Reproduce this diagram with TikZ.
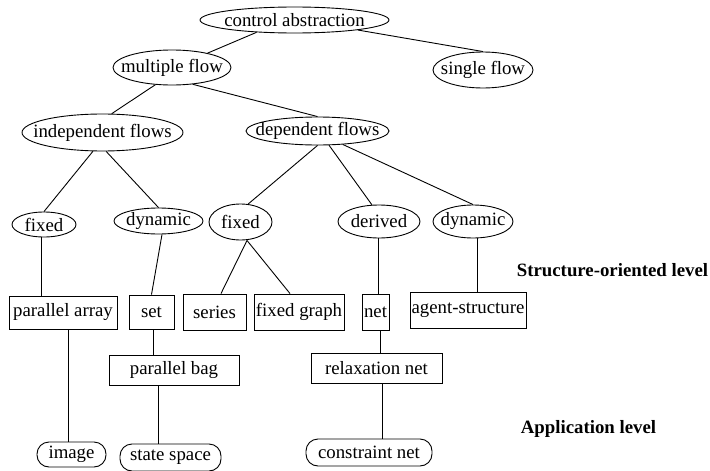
\documentclass[tikz,border=0pt]{standalone}
\usepackage{fontspec}
\setmainfont{Liberation Serif}
\newcommand{\ctxt}[1]{\makebox[0pt]{#1}}
\tikzset{
    ell/.style={draw,ellipse,inner sep=0pt},
    box/.style={draw,rectangle,inner sep=0pt},
    rbox/.style={draw,rectangle,rounded corners=12pt,inner sep=0pt},
    lvl/.style={anchor=base,inner sep=0pt,font=\fontsize{18.8}{22}\selectfont\bfseries}
}
\usetikzlibrary{shapes.geometric}
\begin{document}
\begin{tikzpicture}[x=1pt,y=-1pt,line width=0.9pt,font=\fontsize{18.8}{22}\selectfont]
    \useasboundingbox (0,0) rectangle (710,471);
    % top of the tree
    \node[ell,minimum width=189,minimum height=26] (ca) at (294.5,20) {\ctxt{control abstraction}};
    \node[ell,minimum width=118,minimum height=35] (mf) at (172,67.5) {\ctxt{multiple flow}};
    \node[ell,minimum width=100,minimum height=36] (sf) at (483,70) {\ctxt{single flow}};
    \node[ell,minimum width=161,minimum height=37] (indf) at (102.5,132.5) {\ctxt{independent flows}};
    \node[ell,minimum width=143,minimum height=28] (depf) at (317.5,131) {\ctxt{dependent flows}};
    \node[ell,minimum width=64,minimum height=25] (fixl) at (44,224.5) {\ctxt{fixed}};
    \node[ell,minimum width=89,minimum height=26] (dynl) at (158.5,221) {\ctxt{dynamic}};
    \node[ell,minimum width=63,minimum height=36] (fixm) at (240.5,222) {\ctxt{fixed}};
    \node[ell,minimum width=82,minimum height=33] (der) at (379,221.5) {\ctxt{derived}};
    \node[ell,minimum width=80,minimum height=33] (dynr) at (473,221.5) {\ctxt{dynamic}};
    % structure-oriented level
    \node[box,minimum width=108,minimum height=33] (parr) at (63,312.5) {parallel array};
    \node[box,minimum width=45,minimum height=34] (set) at (151.5,312) {set};
    \node[box,minimum width=63,minimum height=36] (ser) at (214.5,312) {series};
    \node[box,minimum width=90,minimum height=36] (fgr) at (299,312) {fixed graph};
    \node[box,minimum width=27,minimum height=36] (net) at (375.5,312) {net};
    \node[box,minimum width=116,minimum height=36] (agst) at (468,310) {agent-structure};
    \node[box,minimum width=130,minimum height=30] (pbag) at (174,370) {parallel bag};
    \node[box,minimum width=131,minimum height=30] (rnet) at (376.5,368) {relaxation net};
    % application level
    \node[rbox,minimum width=69,minimum height=25] (img) at (71.5,454.5) {image};
    \node[rbox,minimum width=101,minimum height=27] (ssp) at (170.5,457.5) {state space};
    \node[rbox,minimum width=126,minimum height=27] (cnet) at (369,452.5) {constraint net};
    \node[lvl] (lstr) at (612.5,276) {Structure-oriented level};
    \node[lvl] (lapp) at (588.5,433) {Application level};
    % edges
    \draw (ca.198) -- (mf.22);
    \draw (ca.-9) -- (sf.north);
    \draw (mf.-134) -- (indf.64);
    \draw (mf.-39.5) -- (depf.north);
    \draw (indf.-117) -- (fixl.north);
    \draw (indf.-79) -- (dynl.north);
    \draw (depf.south) -- (fixm.67);
    \draw (depf.-51) -- (der.113);
    \draw (depf.-28) -- (dynr.north);
    \draw ([xshift=-3pt]fixl.south) -- ([xshift=-22pt]parr.north);
    \draw ([xshift=3.5pt]dynl.south) -- (set.north);
    \draw ([xshift=6.5pt]fixm.south) -- ([xshift=6.5pt]ser.north);
    \draw ([xshift=6.5pt]fixm.south) -- ([xshift=-9pt]fgr.north);
    \draw ([xshift=-1pt]der.south) -- ([xshift=2.5pt]net.north);
    \draw ([xshift=4pt]dynr.south) -- ([xshift=9pt]agst.north);
    \draw ([xshift=5pt]parr.south) -- ([xshift=-3.5pt]img.north);
    \draw ([xshift=1.5pt]set.south) -- ([xshift=-21pt]pbag.north);
    \draw ([xshift=-16pt]pbag.south) -- ([xshift=-12.5pt]ssp.north);
    \draw ([xshift=4.5pt]net.south) -- ([xshift=3.5pt]rnet.north);
    \draw ([xshift=5.5pt]rnet.south) -- ([xshift=13pt]cnet.north);
\end{tikzpicture}
\end{document}
